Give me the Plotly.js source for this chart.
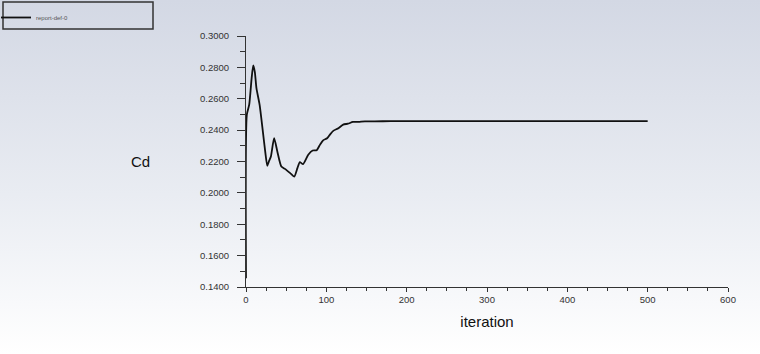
<!DOCTYPE html>
<html>
<head>
<meta charset="utf-8">
<script src="https://cdn.plot.ly/plotly-3.0.1.min.js"></script>
<style>
html, body { margin:0; padding:0; }
body { width:760px; height:354px; background: linear-gradient(to bottom, #d3d8e4 0%, #e9ecf2 55%, #ffffff 100%); }
#chart { width:760px; height:354px; }
</style>
</head>
<body>
<div id="chart"></div>
<script>
const seriesName = "report-def-0";
const iteration = [0, 1, 4, 7, 9, 11, 13, 17, 21, 24, 26.5, 28.5, 31, 35, 39, 44, 48.5, 55, 60, 64, 67, 71, 77.5, 83, 88, 92, 96, 101, 105, 109, 115, 121, 127, 133, 140, 148, 160, 180, 200, 300, 400, 500];
const cd = [0.1455, 0.2497, 0.2562, 0.2730, 0.2812, 0.2770, 0.2668, 0.2560, 0.2391, 0.2260, 0.2173, 0.2200, 0.2232, 0.2349, 0.2264, 0.2168, 0.2153, 0.2126, 0.2104, 0.2158, 0.2196, 0.2183, 0.2243, 0.2270, 0.2272, 0.2306, 0.2335, 0.2348, 0.2375, 0.2397, 0.2412, 0.2435, 0.2441, 0.2452, 0.2453, 0.2456, 0.2456, 0.2457, 0.2457, 0.2457, 0.2457, 0.2457];
const xTitle = "iteration";
const yTitle = "Cd";

const W = 760, H = 354;
const m = {l:246, r:32, t:36, b:67};
const pw = W - m.l - m.r, ph = H - m.t - m.b;
const px = x => (x - m.l) / pw;
const py = y => (H - m.b - y) / ph;

const trace = {
  x: iteration, y: cd, type: 'scatter', mode: 'lines', name: seriesName,
  line: {color: '#111111', width: 1.8, shape: 'spline', smoothing: 0.6}, showlegend: true
};

const layout = {
  width: W, height: H,
  margin: Object.assign({autoexpand: false}, m),
  paper_bgcolor: 'rgba(0,0,0,0)',
  plot_bgcolor: 'rgba(0,0,0,0)',
  font: {family: 'Liberation Sans, Arial, sans-serif', color: '#333333'},
  showlegend: true,
  legend: {
    x: px(-4), y: py(3), xanchor: 'left', yanchor: 'top',
    bgcolor: 'rgba(0,0,0,0)', borderwidth: 0,
    font: {size: 6, color: '#555555'}, itemwidth: 30
  },
  xaxis: {
    range: [0, 600], dtick: 100, tick0: 0,
    showgrid: false, zeroline: false,
    showline: true, linecolor: '#333333', linewidth: 1,
    ticks: 'outside', ticklen: 4, tickcolor: '#333333',
    tickfont: {size: 9.5, color: '#333333'},
    minor: {dtick: 25, ticks: 'outside', ticklen: 2.5, tickcolor: '#333333'},
    title: {text: xTitle, font: {size: 15, color: '#111111'}, standoff: 12}
  },
  yaxis: {
    range: [0.14, 0.30], dtick: 0.02, tick0: 0.14,
    tickformat: '.4f',
    showgrid: false, zeroline: false,
    showline: true, linecolor: '#333333', linewidth: 1,
    ticks: 'outside', ticklen: 8, tickcolor: '#333333',
    ticklabelstandoff: 6,
    tickfont: {size: 9.5, color: '#333333'},
    minor: {dtick: 0.01, ticks: 'outside', ticklen: 5, tickcolor: '#333333'}
  },
  shapes: [{
    type: 'rect', xref: 'paper', yref: 'paper',
    x0: px(3), x1: px(153), y0: py(29), y1: py(2),
    line: {color: '#333333', width: 1.5}, fillcolor: 'rgba(0,0,0,0)'
  }],
  annotations: [{
    text: yTitle, xref: 'paper', yref: 'paper',
    x: px(140), y: py(161), xanchor: 'center', yanchor: 'middle',
    showarrow: false, font: {size: 15, color: '#111111'}
  }]
};

Plotly.newPlot('chart', [trace], layout, {displayModeBar: false, staticPlot: true});
</script>
</body>
</html>
